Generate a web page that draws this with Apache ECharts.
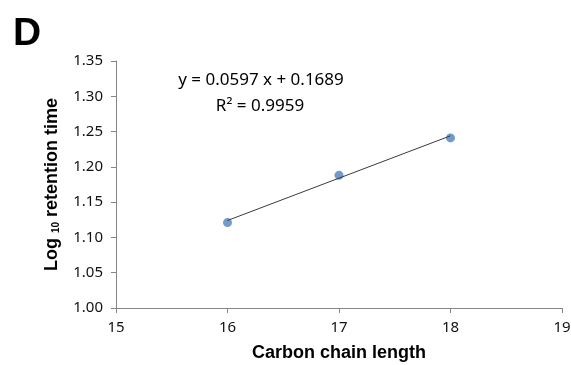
<!DOCTYPE html>
<html>
<head>
<meta charset="utf-8">
<script src="https://cdn.jsdelivr.net/npm/echarts@6/dist/echarts.min.js"></script>
<style>
  html, body { margin: 0; padding: 0; background: #fff; }
  #chart { width: 571px; height: 365px; }
</style>
</head>
<body>
<div id="chart"></div>
<script>
// carbon chain length vs log10 retention time
const chainLength = [16, 17, 18]
const logRetention = [1.121, 1.188, 1.241]

// linear trendline endpoints (y = 0.0597 x + 0.1689)
const trendX = [16, 18]
const trendY = [1.124, 1.244]

const xTicks = [15, 16, 17, 18, 19]
const yTicks = [1.00, 1.05, 1.10, 1.15, 1.20, 1.25, 1.30, 1.35]

const equationText = 'y = 0.0597 x + 0.1689'
const r2Text = 'R² = 0.9959'
const panelLabel = 'D'

const chart = echarts.init(document.getElementById('chart'))

const axisGray = '#868686'
const labelFont = 'Noto Sans'

const option = {
  animation: false,
  grid: {
    left: 116,
    right: 9,
    top: 61,
    bottom: 57,
    outerBoundsMode: 'none'
  },
  xAxis: {
    type: 'value',
    min: xTicks[0],
    max: xTicks[xTicks.length - 1],
    interval: 1,
    name: 'Carbon chain length',
    nameLocation: 'middle',
    nameGap: 36,
    nameTextStyle: {
      fontFamily: 'Liberation Sans',
      fontWeight: 'bold',
      fontSize: 18,
      color: '#000'
    },
    axisLine: { show: true, lineStyle: { color: axisGray, width: 1 } },
    axisTick: { show: true, inside: false, length: 5, lineStyle: { color: axisGray } },
    axisLabel: { color: '#111', fontFamily: labelFont, fontSize: 15, margin: 12 },
    splitLine: { show: false }
  },
  yAxis: {
    type: 'value',
    min: yTicks[0],
    max: yTicks[yTicks.length - 1],
    interval: 0.05,
    name: '{b|Log }{s|10}{b| retention time}',
    nameLocation: 'middle',
    nameGap: 55,
    nameTextStyle: {
      rich: {
        b: { fontFamily: 'Liberation Sans', fontWeight: 'bold', fontSize: 18, color: '#000' },
        s: { fontFamily: 'Liberation Sans', fontWeight: 'bold', fontSize: 10, color: '#000', verticalAlign: 'bottom', padding: [6, 0, 0, 0] }
      }
    },
    axisLine: { show: true, lineStyle: { color: axisGray, width: 1 } },
    axisTick: { show: true, inside: false, length: 5, lineStyle: { color: axisGray } },
    axisLabel: {
      color: '#111',
      fontFamily: labelFont,
      fontSize: 15,
      margin: 13,
      formatter: v => v.toFixed(2)
    },
    splitLine: { show: false }
  },
  series: [
    {
      name: 'data',
      type: 'scatter',
      symbol: 'circle',
      symbolSize: 9,
      itemStyle: { color: '#4F81BD' },
      data: chainLength.map((x, i) => [x, logRetention[i]]),
      z: 2
    },
    {
      name: 'trend',
      type: 'line',
      symbol: 'none',
      lineStyle: { color: '#3a3a3a', width: 1 },
      data: trendX.map((x, i) => [x, trendY[i]]),
      z: 3
    }
  ],
  graphic: [
    {
      type: 'text',
      x: 13,
      y: 34,
      style: {
        text: panelLabel,
        font: 'bold 39px "Liberation Sans"',
        fill: '#000',
        textAlign: 'left',
        textVerticalAlign: 'middle'
      }
    },
    {
      type: 'text',
      x: 261,
      y: 80,
      style: {
        text: equationText,
        font: '17px "Noto Sans"',
        fill: '#000',
        textAlign: 'center',
        textVerticalAlign: 'middle'
      }
    },
    {
      type: 'text',
      x: 260,
      y: 106,
      style: {
        text: r2Text,
        font: '17px "Noto Sans"',
        fill: '#000',
        textAlign: 'center',
        textVerticalAlign: 'middle'
      }
    }
  ]
}

chart.setOption(option)
</script>
</body>
</html>
